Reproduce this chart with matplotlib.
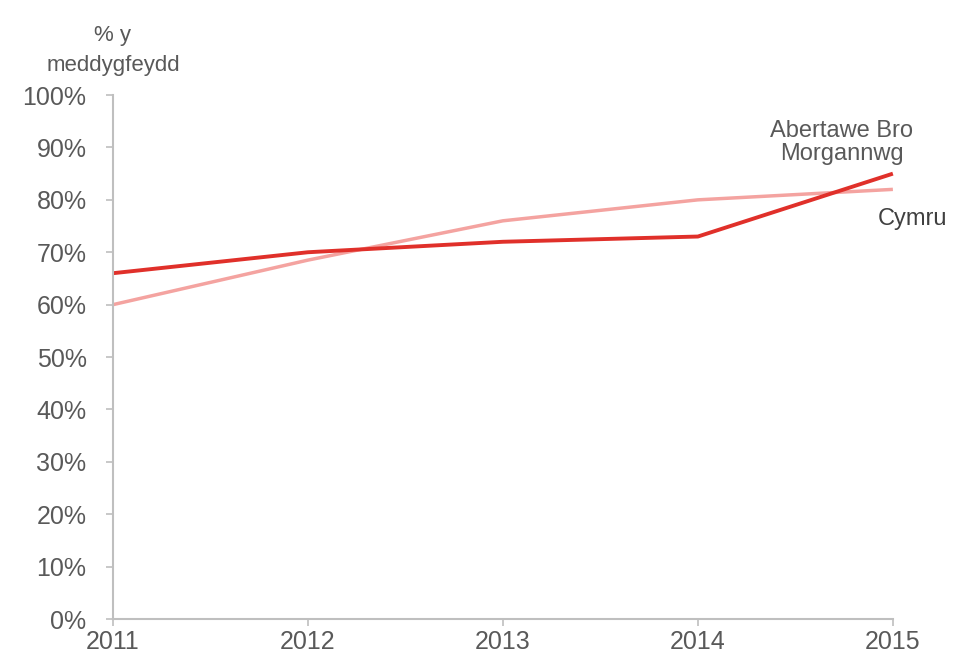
import matplotlib
matplotlib.use("Agg")
import matplotlib.pyplot as plt
from matplotlib.ticker import PercentFormatter

plt.rcParams['font.family'] = ['Liberation Sans', 'DejaVu Sans']

years = [2011, 2012, 2013, 2014, 2015]
abertawe = [66, 70, 72, 73, 85]
cymru = [60, 68.5, 76, 80, 82]

text_col = '#595959'
axis_col = '#BFBFBF'

fig = plt.figure(figsize=(9.57, 6.6), dpi=100)
ax = fig.add_axes([0.118, 0.062, 0.815, 0.794])

ax.plot(years, cymru, color='#F4A3A0', lw=2.5, solid_capstyle='butt', clip_on=False)
ax.plot(years, abertawe, color='#E0302A', lw=2.8, solid_capstyle='butt', clip_on=False)

ax.set_xlim(2011, 2015)
ax.set_ylim(0, 100)
ax.set_xticks(years)
ax.set_yticks(range(0, 101, 10))
ax.yaxis.set_major_formatter(PercentFormatter(decimals=0))

for side in ['top', 'right']:
    ax.spines[side].set_visible(False)
for side in ['left', 'bottom']:
    ax.spines[side].set_color(axis_col)
    ax.spines[side].set_linewidth(1.5)
ax.tick_params(axis='both', colors=axis_col, labelcolor=text_col,
               labelsize=18, length=5, width=1.2, direction='out')
ax.tick_params(axis='y', pad=14)
ax.tick_params(axis='x', pad=3)

# y-axis title above the axis
fig.text(0.118, 0.885, '% y\nmeddygfeydd', ha='center', va='bottom',
         fontsize=16, color=text_col, linespacing=1.55)

ax.annotate('Abertawe Bro\nMorgannwg', xy=(years[-1], abertawe[-1]),
            xytext=(-37, 6), textcoords='offset points', ha='center', va='bottom',
            fontsize=17, color=text_col, linespacing=1.1)
ax.annotate('Cymru', xy=(years[-1], cymru[-1]),
            xytext=(-11, -21), textcoords='offset points', ha='left', va='center',
            fontsize=17, color='#404040')

fig.savefig('out.png', dpi=100)
